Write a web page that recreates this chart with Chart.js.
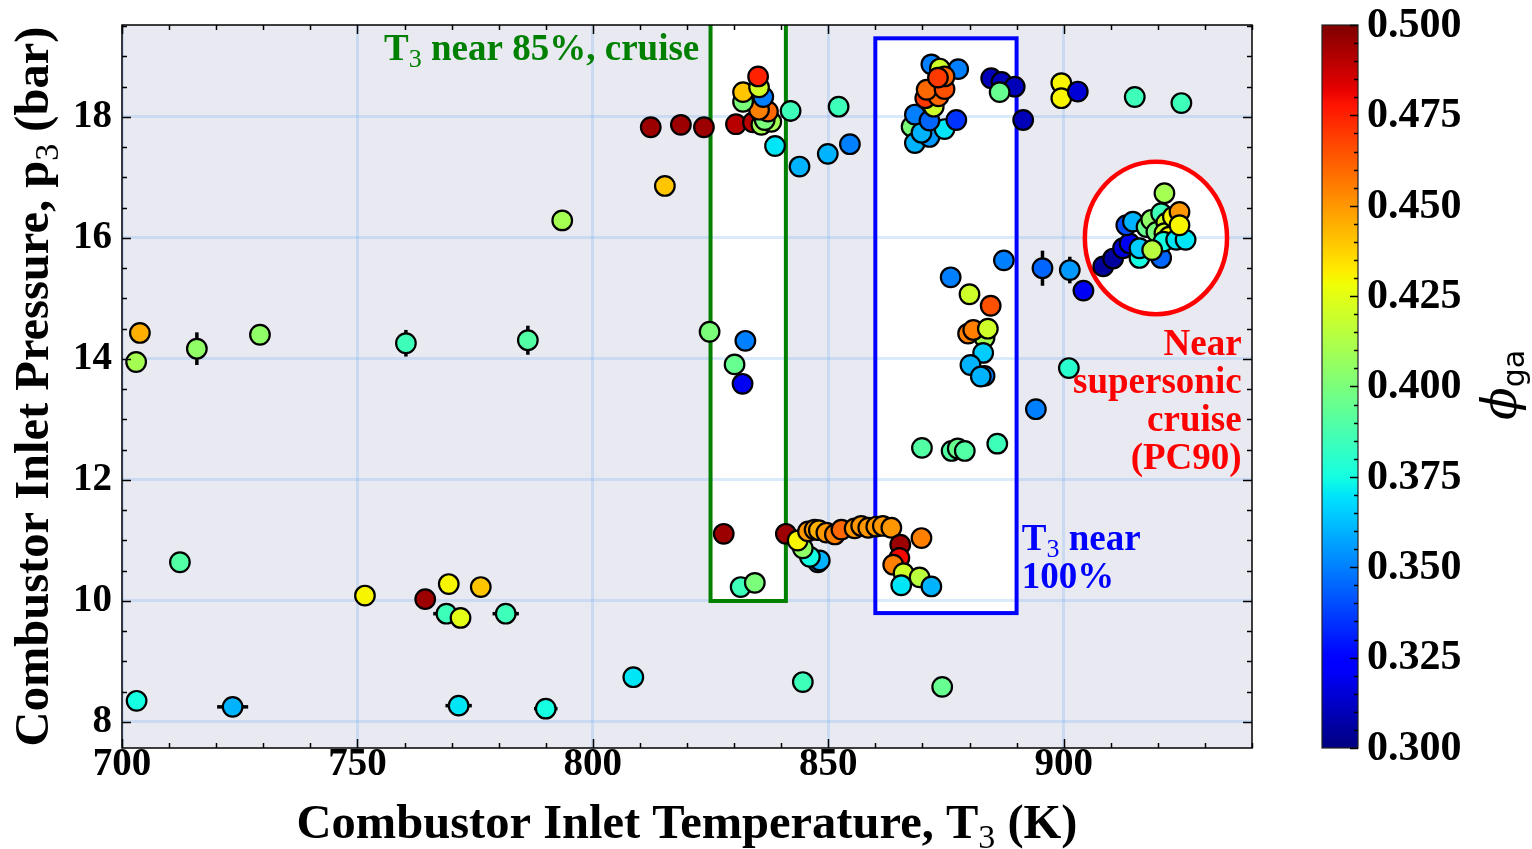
<!DOCTYPE html>
<html><head><meta charset="utf-8">
<script src="https://cdn.jsdelivr.net/npm/chart.js@4.4.0/dist/chart.umd.min.js"></script>
<style>html,body{margin:0;padding:0;background:#fff;overflow:hidden}#wrap{width:1532px;height:849px;position:relative}</style>
</head><body><div id="wrap"><canvas id="c" width="1532" height="849"></canvas></div>
<script>
// ---- data ----
const T3 = [703.8,703.0,715.9,729.3,760.3,786.2,712.3,703.1,723.5,751.6,764.4,769.4,768.9,771.9,776.2,781.5,771.5,790.0,808.6,844.6,874.2,793.5,815.3,824.8,832.4,830.1,831.8,843.9,
812.3,818.7,823.6,830.4,834.0,835.8,837.9,836.5,842.0,838.7,837.2,835.3,831.9,836.2,831.9,835.3,835.1,849.9,852.2,854.6,
867.7,868.4,871.5,869.8,874.7,868.4,871.5,877.2,872.4,870.6,873.4,870.9,874.7,871.9,877.6,873.7,874.7,873.3,884.6,886.8,889.6,886.4,891.4,899.5,899.5,903.0,915.1,925.0,
887.3,895.5,901.3,904.2,901.1,876.0,880.0,884.5,883.2,879.7,880.8,883.9,882.9,880.2,883.2,882.4,894.1,869.9,876.2,877.5,879.0,885.9,
827.8,841.0,831.4,834.4,847.8,848.2,846.1,844.6,843.5,845.7,847.1,848.0,849.6,851.4,852.8,855.6,857.0,858.5,860.2,861.6,863.4,869.8,865.3,865.1,863.8,866.0,869.4,865.5,871.9,
908.4,910.5,912.6,914.0,913.3,914.7,916.1,920.7,917.6,918.6,919.7,920.7,921.8,921.4,922.4,923.2,921.2,923.9,925.9,924.6,924.6,921.4,916.1,918.8];
const P3 = [14.43,13.95,14.17,14.40,14.26,14.31,10.64,8.35,8.25,10.09,10.03,10.28,9.79,9.72,10.23,9.79,8.27,8.22,8.74,8.66,8.58,16.29,16.86,14.45,14.30,13.91,13.59,17.18,
17.83,17.87,17.83,17.88,17.91,17.87,17.92,17.95,18.10,17.52,18.09,18.12,18.25,18.33,18.41,18.49,18.67,17.39,18.17,17.55,
17.84,17.57,17.67,17.74,17.80,18.04,17.94,17.95,18.17,18.31,18.34,18.45,18.46,18.87,18.79,18.80,18.67,18.65,18.64,18.58,18.50,18.41,17.95,18.56,18.31,18.42,18.33,18.23,
15.63,15.50,15.47,15.13,13.85,15.35,15.07,14.88,14.35,14.42,14.48,14.50,14.10,13.90,13.72,13.71,13.17,12.53,12.48,12.52,12.48,12.60,
11.11,11.11,10.23,10.30,10.64,10.67,10.73,10.87,11.00,11.15,11.18,11.17,11.13,11.10,11.18,11.20,11.24,11.21,11.23,11.24,11.21,11.04,10.93,10.71,10.60,10.46,10.39,10.26,10.24,
15.53,15.66,15.83,15.91,16.21,16.27,15.67,15.67,16.18,16.30,16.10,16.41,16.25,16.08,16.02,16.35,15.94,15.97,15.97,16.43,16.21,16.74,15.83,15.80];
const PHI = [0.445,0.41,0.405,0.405,0.385,0.39,0.39,0.375,0.36,0.43,0.495,0.43,0.385,0.425,0.44,0.385,0.37,0.375,0.37,0.385,0.395,0.41,0.44,0.40,0.35,0.395,0.32,0.36,
0.495,0.495,0.495,0.49,0.49,0.41,0.41,0.40,0.385,0.37,0.46,0.455,0.40,0.35,0.44,0.42,0.475,0.36,0.385,0.35,
0.40,0.36,0.355,0.36,0.37,0.35,0.345,0.335,0.42,0.47,0.46,0.46,0.465,0.35,0.35,0.42,0.46,0.47,0.31,0.31,0.31,0.395,0.31,0.43,0.43,0.315,0.385,0.385,
0.35,0.345,0.355,0.32,0.38,0.35,0.42,0.465,0.41,0.455,0.455,0.42,0.365,0.36,0.35,0.36,0.35,0.39,0.39,0.395,0.39,0.385,
0.495,0.495,0.385,0.40,0.35,0.36,0.375,0.405,0.43,0.45,0.45,0.445,0.45,0.455,0.46,0.45,0.45,0.45,0.45,0.45,0.45,0.455,0.495,0.48,0.455,0.42,0.415,0.37,0.36,
0.305,0.305,0.315,0.32,0.34,0.36,0.375,0.345,0.395,0.405,0.40,0.385,0.42,0.42,0.43,0.43,0.375,0.37,0.37,0.45,0.43,0.41,0.365,0.415];
// error half-widths (K) and half-heights (bar), 0 = none
const XERR = [0.8,0,0,0,0,0,0,0,3.3,0,0,0,2.8,0,0,2.8,2.8,2.5,1.3,0,0,1.5,1.8,0,0,0,0,0,
0,0,0,0,0,0,0,0,0,0,0,0,0,0,0,0,0,0,0,0,
0,0,0,0,0,0,0,0,0,0,0,0,0,0,0,0,0,0,0,0,0,0,0,0,0,0,0,0,
0,0,0,0,0,0,0,0,0,0,0,0,0,0,0,0,0,0,0,0,0,0,
0,0,0,0,0,0,0,0,0,0,0,0,0,0,0,0,0,0,0,0,0,0,0,0,0,0,0,0,0,
0,0,0,0,0,0,0,0,0,0,0,0,0,0,0,0,0,0,0,0,0,0,0,0];
const YERR = [0,0,0.27,0.12,0.22,0.24,0,0,0,0,0,0,0,0,0,0,0,0,0,0,0,0,0.1,0,0,0,0,0,
0,0,0,0,0,0,0,0,0.18,0,0,0,0,0,0,0,0,0,0,0,
0,0,0,0,0,0,0,0,0,0,0,0,0,0,0,0,0,0,0,0,0,0,0,0,0,0,0,0,
0,0.29,0.22,0.12,0,0,0,0,0,0,0,0,0,0,0,0,0.15,0,0,0,0,0,
0,0,0,0,0,0,0,0,0,0,0,0,0,0,0,0,0,0,0,0,0,0,0,0,0,0,0,0,0,
0,0,0,0,0,0,0,0,0,0,0,0,0,0,0,0,0,0,0,0,0,0,0,0];
const X_TICKS = [700,750,800,850,900];
const Y_TICKS = [8,10,12,14,16,18];
const CB_TICKS = ['0.300','0.325','0.350','0.375','0.400','0.425','0.450','0.475','0.500'];
const PHI_MIN = 0.3, PHI_MAX = 0.5;

// ---- helpers ----
function jet(v){
  v = Math.max(0, Math.min(1, v));
  const seg = pts => { for (let i=0;i<pts.length-1;i++){ const [x0,y0]=pts[i],[x1,y1]=pts[i+1]; if (v<=x1) return y0+(y1-y0)*(v-x0)/(x1-x0);} return pts[pts.length-1][1]; };
  const r = seg([[0,0],[0.35,0],[0.66,1],[0.89,1],[1,0.5]]);
  const g = seg([[0,0],[0.125,0],[0.375,1],[0.64,1],[0.91,0],[1,0]]);
  const b = seg([[0,0.5],[0.11,1],[0.34,1],[0.65,0],[1,0]]);
  return `rgb(${Math.round(r*255)},${Math.round(g*255)},${Math.round(b*255)})`;
}
const SERIF = '"Liberation Serif","Times New Roman",serif';
function rich(ctx, parts, x, y, align, size, color){
  ctx.save();
  let total = 0;
  const items = parts.map(([t,s]) => { const f = s ? `normal ${Math.round(size*0.7)}px ${SERIF}` : `bold ${size}px ${SERIF}`; ctx.font=f; const w=ctx.measureText(t).width; total+=w; return {t,s,f,w}; });
  let cx = align==='center' ? x-total/2 : align==='right' ? x-total : x;
  ctx.fillStyle = color; ctx.textAlign='left'; ctx.textBaseline='alphabetic';
  for (const it of items){ ctx.font = it.f; ctx.fillText(it.t, cx, y + (it.s ? size*0.2 : 0)); cx += it.w; }
  ctx.restore();
}

const BG = '#e9e9f1';
const GRID = 'rgba(120,180,240,0.28)';

const deco = {
  id: 'deco',
  beforeDraw(chart){
    const {ctx, chartArea:a, scales:{x,y}} = chart;
    ctx.save();
    ctx.fillStyle = BG; ctx.fillRect(a.left, a.top, a.right-a.left, a.bottom-a.top);
    ctx.beginPath(); ctx.rect(a.left, a.top, a.right-a.left, a.bottom-a.top); ctx.clip();
    ctx.fillStyle = '#fff';
    let gx0=x.getPixelForValue(825), gx1=x.getPixelForValue(841), gy0=y.getPixelForValue(20.5), gy1=y.getPixelForValue(10.0);
    ctx.fillRect(gx0, gy0, gx1-gx0, gy1-gy0);
    let bx0=x.getPixelForValue(860), bx1=x.getPixelForValue(890), by0=y.getPixelForValue(19.3), by1=y.getPixelForValue(9.8);
    ctx.fillRect(bx0, by0, bx1-bx0, by1-by0);
    const cx=x.getPixelForValue(919.6), cy=y.getPixelForValue(16.0);
    const rx=x.getPixelForValue(919.6+15.1)-cx, ry=cy-y.getPixelForValue(16.0+1.26);
    ctx.beginPath(); ctx.ellipse(cx, cy, rx, ry, 0, 0, Math.PI*2); ctx.fill();
    ctx.restore();
  },
  beforeDatasetsDraw(chart){
    const {ctx, chartArea:a, scales:{x,y}} = chart;
    ctx.save();
    ctx.beginPath(); ctx.rect(a.left, a.top, a.right-a.left, a.bottom-a.top); ctx.clip();
    ctx.lineWidth = 4;
    ctx.strokeStyle = '#008000';
    let gx0=x.getPixelForValue(825), gx1=x.getPixelForValue(841), gy0=y.getPixelForValue(20.5), gy1=y.getPixelForValue(10.0);
    ctx.strokeRect(gx0, gy0, gx1-gx0, gy1-gy0);
    ctx.strokeStyle = '#0000ff';
    let bx0=x.getPixelForValue(860), bx1=x.getPixelForValue(890), by0=y.getPixelForValue(19.3), by1=y.getPixelForValue(9.8);
    ctx.strokeRect(bx0, by0, bx1-bx0, by1-by0);
    ctx.strokeStyle = '#ff0000'; ctx.lineWidth = 4.5;
    const cx=x.getPixelForValue(919.6), cy=y.getPixelForValue(16.0);
    const rx=x.getPixelForValue(919.6+15.1)-cx, ry=cy-y.getPixelForValue(16.0+1.26);
    ctx.beginPath(); ctx.ellipse(cx, cy, rx, ry, 0, 0, Math.PI*2); ctx.stroke();
    // error bars
    ctx.strokeStyle = '#000'; ctx.lineWidth = 3.5; ctx.lineCap='butt';
    for (let i=0;i<T3.length;i++){
      const px=x.getPixelForValue(T3[i]), py=y.getPixelForValue(P3[i]);
      if (XERR[i]>0){ ctx.beginPath(); ctx.moveTo(x.getPixelForValue(T3[i]-XERR[i]), py); ctx.lineTo(x.getPixelForValue(T3[i]+XERR[i]), py); ctx.stroke(); }
      if (YERR[i]>0){ ctx.beginPath(); ctx.moveTo(px, y.getPixelForValue(P3[i]-YERR[i])); ctx.lineTo(px, y.getPixelForValue(P3[i]+YERR[i])); ctx.stroke(); }
    }
    ctx.restore();
  },
  afterDraw(chart){
    const {ctx, chartArea:a, scales:{x,y}} = chart;
    ctx.save();
    ctx.strokeStyle = '#000'; ctx.lineWidth = 1.5;
    ctx.strokeRect(a.left, a.top, a.right-a.left, a.bottom-a.top);
    const tick = (x0,y0,x1,y1)=>{ ctx.beginPath(); ctx.moveTo(x0,y0); ctx.lineTo(x1,y1); ctx.stroke(); };
    for (let v=700; v<=x.max+1e-9; v+=10){
      const px = Math.round(x.getPixelForValue(v))+0.5; const L = (v%50===0)?9:5;
      tick(px, a.bottom, px, a.bottom-L); tick(px, a.top, px, a.top+L);
    }
    for (let v=8; v<=y.max+1e-9; v+=0.5){
      const py = Math.round(y.getPixelForValue(v))+0.5; const L = (Math.abs(v%2)<1e-9)?9:5;
      tick(a.left, py, a.left+L, py); tick(a.right, py, a.right-L, py);
    }
    // annotation texts
    rich(ctx, [['T',0],['3',1],[' near 85%, cruise',0]], x.getPixelForValue(822.6), y.getPixelForValue(19.16)+13, 'right', 37, '#008000');
    rich(ctx, [['T',0],['3',1],[' near',0]], x.getPixelForValue(891.1), y.getPixelForValue(11.06)+13, 'left', 37, '#0000ff');
    rich(ctx, [['100%',0]], x.getPixelForValue(891.1), y.getPixelForValue(10.43)+13, 'left', 37, '#0000ff');
    const redLines = ['Near','supersonic','cruise','(PC90)'];
    const redP = [14.26,13.64,13.0,12.38];
    redLines.forEach((t,i)=> rich(ctx, [[t,0]], x.getPixelForValue(937.8), y.getPixelForValue(redP[i])+12, 'right', 37, '#ff0000'));
    // axis titles
    rich(ctx, [['Combustor Inlet Temperature, T',0],['3',1],[' (K)',0]], (a.left+a.right)/2, 838, 'center', 48.5, '#000');
    ctx.save(); ctx.translate(48, (a.top+a.bottom)/2); ctx.rotate(-Math.PI/2);
    rich(ctx, [['Combustor Inlet Pressure, p',0],['3',1],[' (bar)',0]], 0, 0, 'center', 48.5, '#000');
    ctx.restore();
    // colorbar
    const cbL=1322, cbR=1358, cbT=a.top, cbB=a.bottom;
    const grad = ctx.createLinearGradient(0, cbB, 0, cbT);
    for (let k=0;k<=100;k++) grad.addColorStop(k/100, jet(k/100));
    ctx.fillStyle = grad; ctx.fillRect(cbL, cbT, cbR-cbL, cbB-cbT);
    ctx.strokeStyle = '#222'; ctx.lineWidth = 1.2; ctx.strokeRect(cbL, cbT, cbR-cbL, cbB-cbT);
    const cbY = v => cbB - (v-PHI_MIN)/(PHI_MAX-PHI_MIN)*(cbB-cbT);
    ctx.strokeStyle = '#000'; ctx.lineWidth = 1.5;
    for (let k=0;k<=40;k++){
      const v = PHI_MIN + k*0.005; const py = Math.round(cbY(v))+0.5; const L = (k%5===0)?8:4;
      tick(cbR, py, cbR-L, py);
    }
    ctx.fillStyle = '#000'; ctx.font = `bold 42px ${SERIF}`; ctx.textAlign='left'; ctx.textBaseline='middle';
    CB_TICKS.forEach(s => ctx.fillText(s, 1367, cbY(parseFloat(s))+1));
    ctx.save(); ctx.translate(1516, 385); ctx.rotate(-Math.PI/2);
    ctx.textBaseline='alphabetic'; ctx.textAlign='left';
    ctx.font = `italic 48px "DejaVu Serif",serif`; const wphi = ctx.measureText('ϕ').width;
    ctx.font = `30px "DejaVu Sans",sans-serif`; const wga = ctx.measureText('ga').width;
    const start = -(wphi+wga)/2;
    ctx.font = `italic 48px "DejaVu Serif",serif`; ctx.fillText('ϕ', start, 0);
    ctx.font = `30px "DejaVu Sans",sans-serif`; ctx.fillText('ga', start+wphi, 8);
    ctx.restore();
    ctx.restore();
  }
};

const pts = T3.map((t,i)=>({x:t, y:P3[i]}));
const colors = PHI.map(v => jet((v-PHI_MIN)/(PHI_MAX-PHI_MIN)));
const tickFont = {family: SERIF, size: 39, weight: 'bold'};
const zeroPad = s => { s.paddingTop = 0; s.paddingBottom = 0; s.paddingLeft = 0; s.paddingRight = 0; };

new Chart(document.getElementById('c'), {
  type: 'scatter',
  data: { datasets: [{ data: pts, pointBackgroundColor: colors, pointBorderColor: '#000', pointBorderWidth: 2.2, pointRadius: 9.8, pointHoverRadius: 9.8 }] },
  options: {
    responsive: false, animation: false, devicePixelRatio: 1,
    layout: { padding: { left: 0, right: 280, top: 25, bottom: 0 } },
    plugins: { legend: { display: false }, tooltip: { enabled: false } },
    events: [],
    scales: {
      x: { type: 'linear', min: 700, max: 940,
        afterBuildTicks: s => { s.ticks = X_TICKS.map(v => ({value: v})); },
        afterFit: s => { s.height = 101; zeroPad(s); },
        grid: { color: GRID, lineWidth: 3, drawTicks: false },
        border: { display: false },
        ticks: { font: tickFont, color: '#000', padding: -6, maxRotation: 0, callback: v => String(v) } },
      y: { type: 'linear', min: 7.57, max: 19.52,
        afterBuildTicks: s => { s.ticks = Y_TICKS.map(v => ({value: v})); },
        afterFit: s => { s.width = 122; zeroPad(s); },
        grid: { color: GRID, lineWidth: 3, drawTicks: false },
        border: { display: false },
        ticks: { font: tickFont, color: '#000', padding: 10, callback: v => String(v) } }
    }
  },
  plugins: [deco]
});
</script></body></html>
